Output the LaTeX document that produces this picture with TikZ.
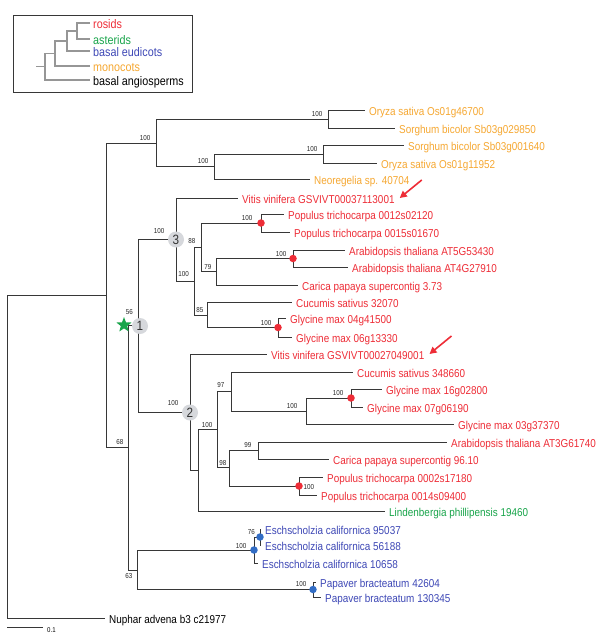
\documentclass[tikz,border=0pt]{standalone}
\usepackage{fontspec}
\setmainfont{Liberation Sans}[FakeStretch=0.87]
\usetikzlibrary{shapes.geometric,arrows.meta,calc}
\definecolor{cred}{RGB}{238,45,55}
\definecolor{corange}{RGB}{246,168,50}
\definecolor{cgreen}{RGB}{25,165,75}
\definecolor{cblue}{RGB}{62,72,182}
\definecolor{cline}{RGB}{55,55,55}
\definecolor{cleg}{RGB}{150,150,150}
\definecolor{ccirc}{RGB}{214,216,220}
\begin{document}
\begin{tikzpicture}[x=1pt,y=-1pt,
 branch/.style={draw=cline, line width=0.9pt},
 legbranch/.style={draw=cleg, line width=1.2pt},
 leaf/.style={anchor=west, inner xsep=4pt, inner ysep=0pt, text height=10pt, text depth=0pt, font=\fontsize{11.4}{13}\selectfont},
 legleaf/.style={anchor=west, inner xsep=3pt, inner ysep=0pt, text height=10pt, text depth=0pt, font=\fontsize{12.4}{14}\selectfont},
 boot/.style={anchor=south east, inner sep=0.5pt, font=\fontsize{7.2}{8}\selectfont, text=black!85},
 rdot/.style={circle, fill=cred, inner sep=0pt, minimum size=7.5pt},
 bdot/.style={circle, fill=cblue!80!cyan, inner sep=0pt, minimum size=7.5pt},
 numcirc/.style={circle, fill=ccirc, inner sep=0pt, minimum size=16pt, font=\fontsize{13.5}{13.5}\selectfont, text=black!80},
 redarrow/.style={draw=cred, line width=1.6pt, -{Triangle[length=7pt,width=7pt]}}]
\useasboundingbox (0,0) rectangle (600,643);
\fill[white] (0,0) rectangle (600,643);

% ---------- legend ----------
\draw[draw=cline, line width=0.8pt] (13,15) rectangle (192,92);
\node[legleaf, text=cred] (gros) at (90,23) {rosids};
\node[legleaf, text=cgreen] (gast) at (90,39) {asterids};
\node[legleaf, text=cblue] (geud) at (90,51) {basal eudicots};
\node[legleaf, text=corange] (gmon) at (90,66) {monocots};
\node[legleaf, text=black] (gbas) at (90,80) {basal angiosperms};
\coordinate (gA) at (77,31);
\coordinate (gB) at (67,41);
\coordinate (gC) at (55,53.5);
\coordinate (gD) at (45,66.75);
\coordinate (gR) at (36,66.75);
\path[legbranch] (gA) |- (gros.west) (gA) |- (gast.west)
  (gB) |- (gA) (gB) |- (geud.west)
  (gC) |- (gB) (gC) |- (gmon.west)
  (gD) |- (gC) (gD) |- (gbas.west)
  (gR) -- (gD);

% ---------- leaves ----------
\node[leaf,text=corange] (L1) at (365,110) {Oryza sativa Os01g46700};
\node[leaf,text=corange] (L2) at (395,128) {Sorghum bicolor Sb03g029850};
\node[leaf,text=corange] (L3) at (404,145) {Sorghum bicolor Sb03g001640};
\node[leaf,text=corange] (L4) at (377,163) {Oryza sativa Os01g11952};
\node[leaf,text=corange] (L5) at (310,179) {Neoregelia sp. 40704};
\node[leaf,text=cred] (L6) at (238,198) {Vitis vinifera GSVIVT00037113001};
\node[leaf,text=cred] (L7) at (284,214) {Populus trichocarpa 0012s02120};
\node[leaf,text=cred] (L8) at (290,232) {Populus trichocarpa 0015s01670};
\node[leaf,text=cred] (L10) at (345,250) {Arabidopsis thaliana AT5G53430};
\node[leaf,text=cred] (L11) at (348,267) {Arabidopsis thaliana AT4G27910};
\node[leaf,text=cred] (L9) at (298,285) {Carica papaya supercontig 3.73};
\node[leaf,text=cred] (L12) at (292,302) {Cucumis sativus 32070};
\node[leaf,text=cred] (L13) at (286,318) {Glycine max 04g41500};
\node[leaf,text=cred] (L14) at (292,337) {Glycine max 06g13330};
\node[leaf,text=cred] (L15) at (267,354) {Vitis vinifera GSVIVT00027049001};
\node[leaf,text=cred] (L17) at (353,372) {Cucumis sativus 348660};
\node[leaf,text=cred] (L19) at (382,389) {Glycine max 16g02800};
\node[leaf,text=cred] (L20) at (363,407) {Glycine max 07g06190};
\node[leaf,text=cred] (L18) at (454,424) {Glycine max 03g37370};
\node[leaf,text=cred] (L21) at (447,442) {Arabidopsis thaliana AT3G61740};
\node[leaf,text=cred] (L22) at (329,459) {Carica papaya supercontig 96.10};
\node[leaf,text=cred] (L23) at (323,477) {Populus trichocarpa 0002s17180};
\node[leaf,text=cred] (L24) at (317,495) {Populus trichocarpa 0014s09400};
\node[leaf,text=cgreen] (L16) at (385,511) {Lindenbergia phillipensis 19460};
\node[leaf,text=cblue] (L26) at (261,529) {Eschscholzia californica 95037};
\node[leaf,text=cblue] (L27) at (261,545) {Eschscholzia californica 56188};
\node[leaf,text=cblue] (L25) at (258,563) {Eschscholzia californica 10658};
\node[leaf,text=cblue] (L28) at (316,582) {Papaver bracteatum 42604};
\node[leaf,text=cblue] (L29) at (321,597) {Papaver bracteatum 130345};
\node[leaf,text=black] (Lnup) at (105,618) {Nuphar advena b3 c21977};

% ---------- internal nodes ----------
\coordinate (nroot) at (7,456.5);
\coordinate (nang) at (106,295);
\coordinate (nmono) at (156,143);
\coordinate (na) at (328,119);
\coordinate (nc) at (214,166.5);
\coordinate (nb) at (323,154);
\coordinate (neud) at (128,447.5);
\coordinate (n1) at (138,325.5);
\coordinate (n3) at (176,239.5);
\coordinate (nA) at (194,281.5);
\coordinate (n88) at (201,247.5);
\coordinate (np1) at (261,223);
\coordinate (n79) at (216,271.5);
\coordinate (nar) at (293,258.5);
\coordinate (n85) at (207,315);
\coordinate (ng1) at (278,327.5);
\coordinate (n2) at (190,412.5);
\coordinate (nB) at (198,470);
\coordinate (nC) at (217,429.5);
\coordinate (n97) at (231,391.5);
\coordinate (nD) at (306,411);
\coordinate (ng2) at (351,398);
\coordinate (n98) at (229,467.5);
\coordinate (n99) at (258,450.5);
\coordinate (np2) at (299,486);
\coordinate (n63) at (137,570);
\coordinate (nes) at (254,550);
\coordinate (n76) at (260,537);
\coordinate (npa) at (313,589.5);

% ---------- branches ----------
\path[branch]
  (nroot) |- (nang) (nroot) |- (Lnup.west)
  (nang) |- (nmono) (nang) |- (neud)
  (nmono) |- (na) (nmono) |- (nc)
  (na) |- (L1.west) (na) |- (L2.west)
  (nc) |- (nb) (nc) |- (L5.west)
  (nb) |- (L3.west) (nb) |- (L4.west)
  (neud) |- (n1) (neud) |- (n63)
  (n1) |- (n3) (n1) |- (n2)
  (n3) |- (L6.west) (n3) |- (nA)
  (nA) |- (n88) (nA) |- (n85)
  (n88) |- (np1) (n88) |- (n79)
  (np1) |- (L7.west) (np1) |- (L8.west)
  (n79) |- (nar) (n79) |- (L9.west)
  (nar) |- (L10.west) (nar) |- (L11.west)
  (n85) |- (L12.west) (n85) |- (ng1)
  (ng1) |- (L13.west) (ng1) |- (L14.west)
  (n2) |- (L15.west) (n2) |- (nB)
  (nB) |- (nC) (nB) |- (L16.west)
  (nC) |- (n97) (nC) |- (n98)
  (n97) |- (L17.west) (n97) |- (nD)
  (nD) |- (ng2) (nD) |- (L18.west)
  (ng2) |- (L19.west) (ng2) |- (L20.west)
  (n98) |- (n99) (n98) |- (np2)
  (n99) |- (L21.west) (n99) |- (L22.west)
  (np2) |- (L23.west) (np2) |- (L24.west)
  (n63) |- (nes) (n63) |- (npa)
  (nes) |- (n76) (nes) |- (L25.west)
  (n76) |- (L26.west) (n76) |- (L27.west)
  (npa) |- (L28.west) (npa) |- (L29.west);

% ---------- bootstrap values ----------
\node[boot] (b1) at ($(nmono)+(-5,-2)$) {100};
\node[boot] (b2) at ($(na)+(-5,-2)$) {100};
\node[boot] (b3) at ($(nc)+(-5,-2)$) {100};
\node[boot] (b4) at ($(nb)+(-5,-2)$) {100};
\node[boot] (b5) at ($(neud)+(-4,-2)$) {68};
\node[boot] (b6) at (133.5,315.5) {56};
\node[boot] (b7) at (165,234.5) {100};
\node[boot] (b8) at ($(nA)+(-4.5,-4)$) {100};
\node[boot] (b9) at ($(n88)+(-5,-3)$) {88};
\node[boot] (b10) at ($(n79)+(-4,-1)$) {79};
\node[boot] (b11) at ($(np1)+(-8,-1.5)$) {100};
\node[boot] (b12) at ($(nar)+(-6,-1.5)$) {100};
\node[boot] (b13) at ($(n85)+(-3,-1.5)$) {85};
\node[boot] (b14) at ($(ng1)+(-6,-1)$) {100};
\node[boot] (b15) at ($(n2)+(-11,-6)$) {100};
\node[boot] (b16) at ($(nC)+(-4,-1.5)$) {100};
\node[boot] (b17) at ($(n97)+(-6,-3)$) {97};
\node[boot] (b18) at ($(nD)+(-8,-1.5)$) {100};
\node[boot] (b19) at ($(ng2)+(-7,-1.5)$) {100};
\node[boot] (b20) at ($(n99)+(-6,-2.5)$) {99};
\node[boot] (b21) at ($(n98)+(-2,-1.5)$) {98};
\node[boot, anchor=west] (b22) at ($(np2)+(4,1.5)$) {100};
\node[boot] (b23) at ($(n76)+(-4.5,-1.5)$) {76};
\node[boot] (b24) at ($(nes)+(-7,-0.5)$) {100};
\node[boot, anchor=north east] (b25) at ($(n63)+(-4,3)$) {63};
\node[boot] (b26) at ($(npa)+(-6,-2.5)$) {100};

% ---------- markers ----------
\node[rdot] (d1) at (np1) {};
\node[rdot] (d2) at (nar) {};
\node[rdot] (d3) at (ng1) {};
\node[rdot] (d4) at (ng2) {};
\node[rdot] (d5) at (np2) {};
\node[bdot] (d6) at (n76) {};
\node[bdot] (d7) at (nes) {};
\node[bdot] (d8) at (npa) {};
\node[star, star points=5, star point ratio=2.4, fill=cgreen, inner sep=0pt, minimum size=16pt] (gstar) at (124,325) {};
\node[numcirc] (c1) at (140,326) {1};
\node[numcirc] (c3) at (n3) {3};
\node[numcirc] (c2) at (n2) {2};

% ---------- arrows ----------
\coordinate (a1t) at ($(L6.east)+(1,0)$);
\coordinate (a1s) at ($(L6.east)+(23,-18)$);
\coordinate (a2t) at ($(L15.east)+(1,0)$);
\coordinate (a2s) at ($(L15.east)+(23,-18)$);
\draw[redarrow] (a1s) -- (a1t);
\draw[redarrow] (a2s) -- (a2t);

% ---------- scale bar ----------
\coordinate (s1) at (7,627);
\coordinate (s2) at (43,627);
\draw[branch] (s1) -- (s2);
\node[anchor=west, inner sep=0pt, font=\fontsize{7}{8}\selectfont] (sl) at (47,630) {0.1};
\end{tikzpicture}
\end{document}
